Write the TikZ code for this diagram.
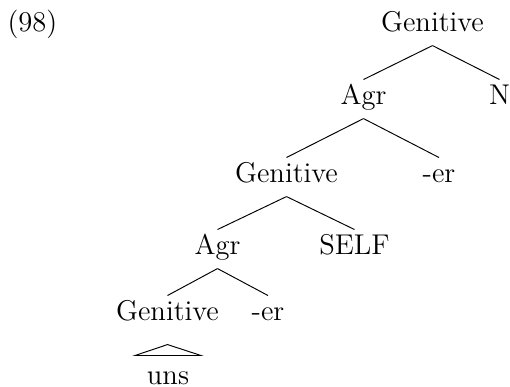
\documentclass[tikz,border=0pt]{standalone}
\usetikzlibrary{calc}
\begin{document}
\begin{tikzpicture}[x=0.42pt,y=-0.42pt,
  lab/.style={font=\fontsize{12}{14.4}\selectfont, inner sep=0pt, inner ysep=2pt,
    text height=8.5pt, text depth=3.5pt, anchor=base},
  edge/.style={line width=0.4pt}]
\useasboundingbox (0,0) rectangle (510,387);
\node[lab] (ex) at (32.5,32) {(98)};
\node[lab] (g1) at (432.5,32) {Genitive};
\node[lab] (a2) at (363.5,105) {Agr};
\node[lab] (n2) at (499.5,105) {N};
\node[lab] (g3) at (286.5,183) {Genitive};
\node[lab] (e3) at (439,183) {-er};
\node[lab] (a4) at (217.5,255) {Agr};
\node[lab] (s4) at (354.5,255) {SELF};
\node[lab] (g5) at (167.5,321) {Genitive};
\node[lab] (e5) at (268,321) {-er};
\node[lab] (u6) at (168,385) {uns};
\draw[edge] (g1.south) -- (a2.north);
\draw[edge] (g1.south) -- (n2.north);
\draw[edge] (a2.south) -- (g3.north);
\draw[edge] (a2.south) -- (e3.north);
\draw[edge] (g3.south) -- (a4.north);
\draw[edge] (g3.south) -- (s4.north);
\draw[edge] (a4.south) -- (g5.north);
\draw[edge] (a4.south) -- (e5.north);
\draw[edge] ($(g5.south)+(0,10)$) -- ($(u6.north)+(-33,-4)$) -- ($(u6.north)+(33,-4)$) -- cycle;
\end{tikzpicture}
\end{document}
